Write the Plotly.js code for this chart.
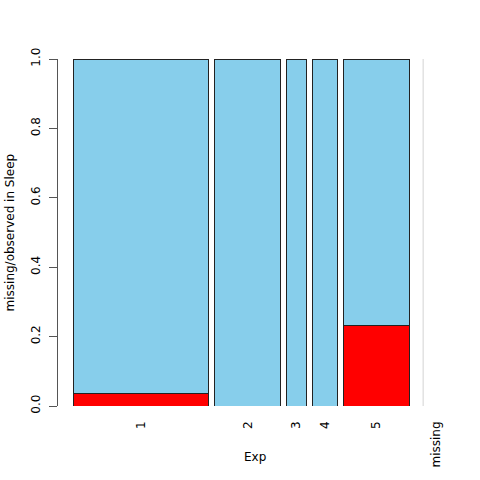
<!DOCTYPE html>
<html><head><meta charset="utf-8">
<script src="https://cdn.plot.ly/plotly-3.0.1.min.js"></script>
<style>body{margin:0;background:#fff}#plot{width:480px;height:480px}</style>
</head><body><div id="plot"></div>
<script>
// Data (sleep dataset: Exp vs missingness in Sleep)
const categories = ["1", "2", "3", "4", "5"];
const observedCounts = [26, 13, 4, 5, 10];
const missingCounts = [1, 0, 0, 0, 3];
const missingLabel = "missing";
const missingCategoryCount = 0;
const xTitle = "Exp";
const yTitle = "missing/observed in Sleep";

const gap = 1.19;
const totals = categories.map((c, i) => observedCounts[i] + missingCounts[i]);
const centers = [], widths = [];
let pos = 0;
totals.forEach((t, i) => {
  centers.push(pos + t / 2);
  widths.push(t);
  pos += t + gap;
});
const missingPos = pos - gap + 2.8;
const propMissing = totals.map((t, i) => missingCounts[i] / t);
const propObserved = totals.map((t, i) => observedCounts[i] / t);

const lineStyle = {color: "#222", width: 1};
const traces = [
  {type: "bar", x: centers, y: propMissing, width: widths,
   marker: {color: "#FF0000", line: lineStyle}, hoverinfo: "skip"},
  {type: "bar", x: centers, y: propObserved, width: widths,
   marker: {color: "#87CEEB", line: lineStyle}, hoverinfo: "skip"},
  {type: "scatter", mode: "lines", x: [missingPos, missingPos], y: [0, 1],
   line: {color: "#e2e2e2", width: 1.5}, hoverinfo: "skip"}
];

const font = {family: "DejaVu Sans, sans-serif", size: 12, color: "#000"};
const layout = {
  width: 480, height: 480,
  margin: {l: 58, r: 40, t: 59, b: 74},
  barmode: "stack", showlegend: false,
  paper_bgcolor: "#fff", plot_bgcolor: "#fff",
  font: font,
  xaxis: {
    range: [-3, 72.9], showgrid: false, zeroline: false, showline: false,
    tickmode: "array", tickvals: centers.concat([missingPos + 2.6]),
    ticktext: categories.concat([missingLabel]),
    tickangle: -90, ticks: "", ticklabelstandoff: 12
  },
  yaxis: {
    range: [0, 1], showgrid: false, zeroline: false,
    showline: true, linecolor: "#555", linewidth: 1,
    ticks: "outside", ticklen: 8, tickcolor: "#555",
    tickvals: [0, 0.2, 0.4, 0.6, 0.8, 1], ticktext: ["0.0", "0.2", "0.4", "0.6", "0.8", "1.0"],
    tickangle: -90, ticklabelstandoff: 4
  },
  annotations: [
    {text: xTitle, xref: "paper", yref: "paper", x: 0.516, y: -0.147,
     xanchor: "center", yanchor: "middle", showarrow: false, font: font},
    {text: yTitle, xref: "paper", yref: "paper", x: -0.1257, y: 0.5, textangle: -90,
     xanchor: "center", yanchor: "middle", showarrow: false, font: font}
  ]
};
Plotly.newPlot("plot", traces, layout, {staticPlot: true, displayModeBar: false});
</script>
</body></html>
